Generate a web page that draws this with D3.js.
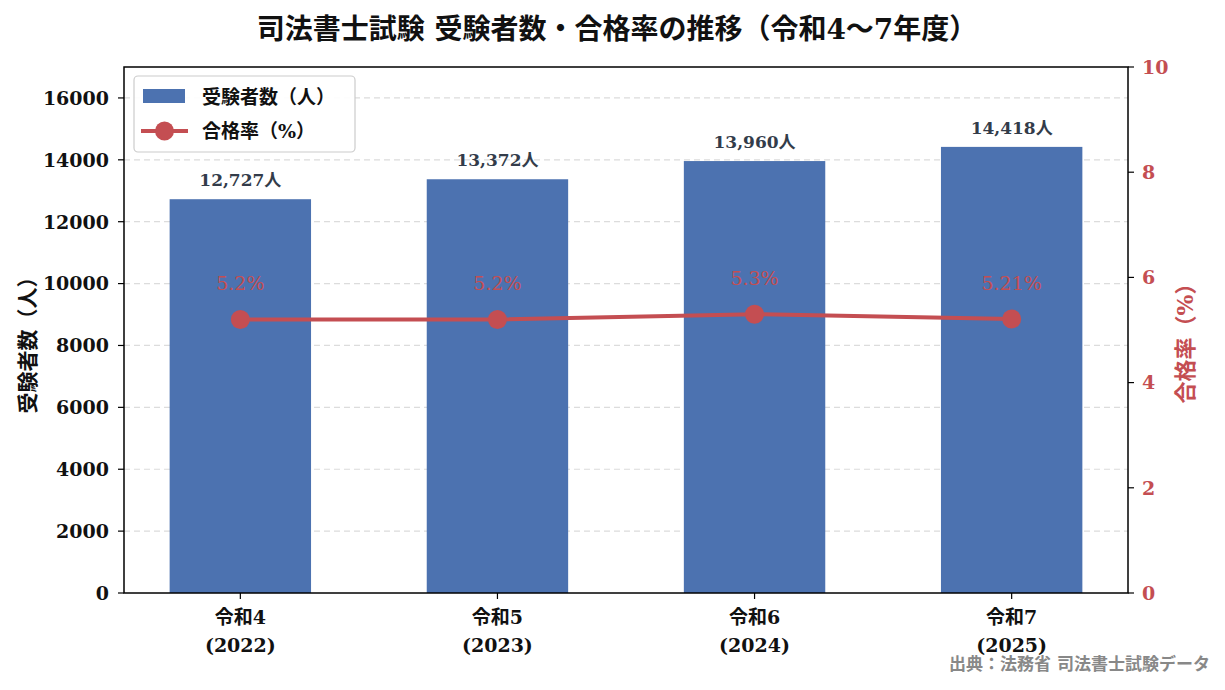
<!DOCTYPE html>
<html><head><meta charset="utf-8">
<script src="https://cdn.jsdelivr.net/npm/d3@7/dist/d3.min.js"></script>
<style>
html,body{margin:0;padding:0;background:#fff;}
text{font-family:"DejaVu Serif","Noto Sans CJK JP",serif;}
</style></head>
<body>
<svg id="chart" width="1225" height="690"></svg>
<script>
const categories = ["令和4", "令和5", "令和6", "令和7"];
const years = ["(2022)", "(2023)", "(2024)", "(2025)"];
const examinees = [12727, 13372, 13960, 14418];
const passRates = [5.2, 5.2, 5.3, 5.21];
const rateLabels = ["5.2%", "5.2%", "5.3%", "5.21%"];
const leftTicks = [0, 2000, 4000, 6000, 8000, 10000, 12000, 14000, 16000];
const rightTicks = [0, 2, 4, 6, 8, 10];

const svg = d3.select("#chart");
const M = {l:124, r:1128, t:67, b:593};
const barW = 0.55;
const x = d3.scaleLinear().domain([-0.4525, 3.4525]).range([M.l, M.r]);
const yL = d3.scaleLinear().domain([0, 17000]).range([M.b, M.t]);
const yR = d3.scaleLinear().domain([0, 10]).range([M.b, M.t]);
const blue = "#4c72b0", red = "#c44e52";

// grid
svg.append("g").selectAll("line").data(leftTicks.slice(1)).join("line")
  .attr("x1", M.l).attr("x2", M.r)
  .attr("y1", d=>yL(d)).attr("y2", d=>yL(d))
  .attr("stroke", "#dcdcdc").attr("stroke-width", 1.2).attr("stroke-dasharray", "6,4");

// bars
svg.append("g").selectAll("rect").data(examinees).join("rect")
  .attr("x", (d,i)=>x(i - barW/2)).attr("width", x(barW) - x(0))
  .attr("y", d=>yL(d)).attr("height", d=>yL(0)-yL(d))
  .attr("fill", blue);

// bar labels
svg.append("g").selectAll("text").data(examinees).join("text")
  .attr("x", (d,i)=>x(i)).attr("y", d=>yL(d) - 13)
  .attr("text-anchor", "middle").attr("font-size", 17).attr("font-weight", "bold")
  .attr("fill", "#333c4a")
  .text(d=>d3.format(",")(d) + "人");

// line
const line = d3.line().x((d,i)=>x(i)).y(d=>yR(d));
svg.append("path").datum(passRates).attr("d", line)
  .attr("fill", "none").attr("stroke", red).attr("stroke-width", 4).attr("stroke-linejoin","round");
svg.append("g").selectAll("circle").data(passRates).join("circle")
  .attr("cx", (d,i)=>x(i)).attr("cy", d=>yR(d)).attr("r", 9.5).attr("fill", red);
svg.append("g").selectAll("text").data(passRates).join("text")
  .attr("x", (d,i)=>x(i)).attr("y", d=>yR(d) - 29)
  .attr("text-anchor", "middle").attr("font-size", 19).attr("fill", red)
  .text((d,i)=>rateLabels[i]);

// frame
svg.append("rect").attr("x", M.l).attr("y", M.t).attr("width", M.r-M.l).attr("height", M.b-M.t)
  .attr("fill", "none").attr("stroke", "#000").attr("stroke-width", 1.5);

// left axis
const gl = svg.append("g");
gl.selectAll("line").data(leftTicks).join("line")
  .attr("x1", M.l-6).attr("x2", M.l).attr("y1", d=>yL(d)).attr("y2", d=>yL(d))
  .attr("stroke", "#000").attr("stroke-width", 1.2);
gl.selectAll("text").data(leftTicks).join("text")
  .attr("x", M.l-15).attr("y", d=>yL(d)).attr("dy", "0.36em")
  .attr("text-anchor", "end").attr("font-size", 19).attr("font-weight", "bold").attr("fill", "#111")
  .text(d=>d);

// right axis
const gr = svg.append("g");
gr.selectAll("line").data(rightTicks).join("line")
  .attr("x1", M.r).attr("x2", M.r+6).attr("y1", d=>yR(d)).attr("y2", d=>yR(d))
  .attr("stroke", "#000").attr("stroke-width", 1.2);
gr.selectAll("text").data(rightTicks).join("text")
  .attr("x", M.r+14).attr("y", d=>yR(d)).attr("dy", "0.36em")
  .attr("text-anchor", "start").attr("font-size", 19).attr("font-weight", "bold").attr("fill", red)
  .text(d=>d);

// x axis
const gx = svg.append("g");
gx.selectAll("line").data(categories).join("line")
  .attr("x1", (d,i)=>x(i)).attr("x2", (d,i)=>x(i)).attr("y1", M.b).attr("y2", M.b+6)
  .attr("stroke", "#000").attr("stroke-width", 1.2);
gx.selectAll("text.c").data(categories).join("text").attr("class","c")
  .attr("x", (d,i)=>x(i)).attr("y", 624)
  .attr("text-anchor", "middle").attr("font-size", 19).attr("font-weight", "bold").attr("fill", "#111")
  .text(d=>d);
gx.selectAll("text.yr").data(years).join("text").attr("class","yr")
  .attr("x", (d,i)=>x(i)).attr("y", 652)
  .attr("text-anchor", "middle").attr("font-size", 19).attr("font-weight", "bold").attr("fill", "#111")
  .text(d=>d);

// axis titles
svg.append("text").attr("transform", "translate(35,340) rotate(-90)")
  .attr("text-anchor", "middle").attr("font-size", 21).attr("font-weight", "bold").attr("fill", "#111")
  .text("受験者数（人）");
svg.append("text").attr("transform", "translate(1193,338) rotate(-90)")
  .attr("text-anchor", "middle").attr("font-size", 22).attr("font-weight", "bold").attr("fill", red)
  .text("合格率（%）");

// title
svg.append("text").attr("x", 617).attr("y", 39)
  .attr("text-anchor", "middle").attr("font-size", 28).attr("font-weight", "bold").attr("fill", "#111")
  .text("司法書士試験 受験者数・合格率の推移（令和4〜7年度）");

// source
svg.append("text").attr("x", 1210).attr("y", 670)
  .attr("text-anchor", "end").attr("font-size", 17).attr("font-weight", "bold").attr("fill", "#888")
  .text("出典：法務省 司法書士試験データ");

// legend
const lg = svg.append("g");
lg.append("rect").attr("x", 134).attr("y", 76).attr("width", 221).attr("height", 76).attr("rx", 4)
  .attr("fill", "#fff").attr("fill-opacity", 0.9).attr("stroke", "#cccccc").attr("stroke-width", 1.2);
lg.append("rect").attr("x", 143).attr("y", 89).attr("width", 42).attr("height", 14).attr("fill", blue);
lg.append("line").attr("x1", 141).attr("x2", 188).attr("y1", 131).attr("y2", 131)
  .attr("stroke", red).attr("stroke-width", 4);
lg.append("circle").attr("cx", 164.5).attr("cy", 131).attr("r", 9.5).attr("fill", red);
lg.append("text").attr("x", 202).attr("y", 97).attr("dy", "0.36em").attr("font-size", 19).attr("font-weight", "bold").attr("fill", "#111")
  .text("受験者数（人）");
lg.append("text").attr("x", 202).attr("y", 131).attr("dy", "0.36em").attr("font-size", 19).attr("font-weight", "bold").attr("fill", "#111")
  .text("合格率（%）");
</script>
</body></html>
